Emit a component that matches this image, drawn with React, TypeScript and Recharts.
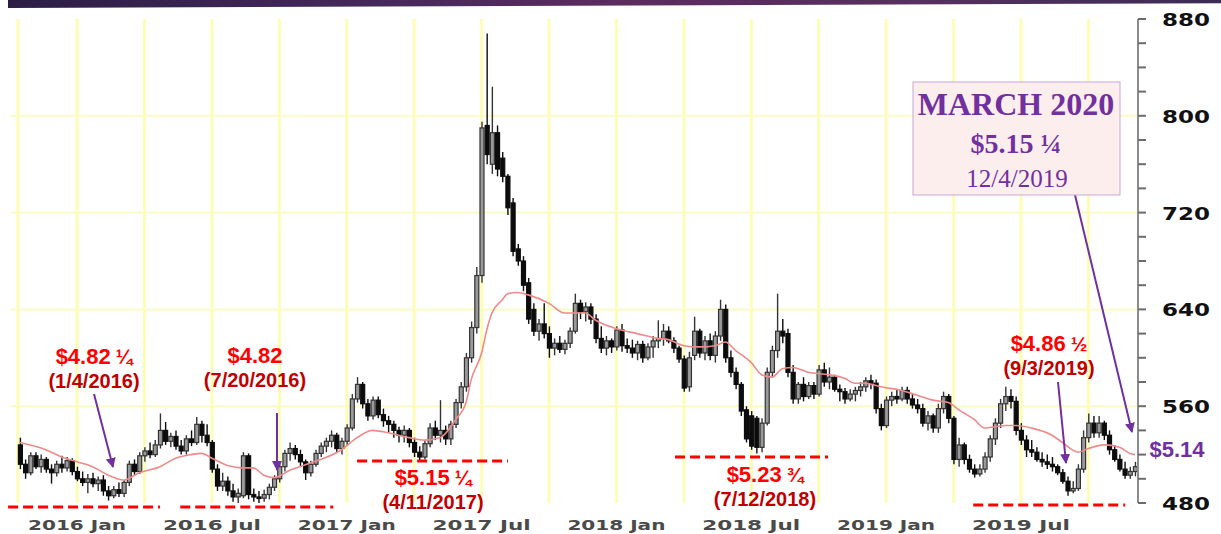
import React from "react";
import { ComposedChart, Bar, Line, XAxis, YAxis, CartesianGrid, ReferenceLine } from "recharts";

// weekly candles [open, high, low, close], first week = Oct 19 2015
const OHLC_2015 = [
  [528, 534, 508, 512], [512, 516, 500, 505], [505, 522, 503, 519], [519, 522, 508, 510],
  [510, 520, 505, 516], [516, 518, 505, 508], [508, 512, 496, 505], [505, 515, 502, 512],
  [512, 519, 505, 509], [509, 518, 506, 515], [515, 517, 503, 506],
];
const OHLC_2016 = [
  [506, 510, 498, 500], [500, 506, 494, 497], [497, 504, 488, 500], [500, 505, 493, 496],
  [496, 502, 490, 499], [499, 503, 486, 490], [490, 494, 482, 486], [486, 494, 484, 491],
  [491, 497, 485, 488], [488, 499, 485, 497], [497, 515, 494, 512], [512, 516, 503, 506],
  [506, 522, 504, 519], [519, 526, 514, 523], [523, 530, 517, 520], [520, 532, 518, 528],
  [528, 554, 525, 540], [540, 547, 528, 531], [531, 538, 526, 535], [535, 540, 524, 527],
  [527, 532, 520, 523], [523, 536, 520, 533], [533, 540, 527, 530], [530, 551, 528, 545],
  [545, 548, 530, 536], [536, 545, 527, 530], [530, 532, 505, 508], [508, 512, 490, 494],
  [494, 505, 490, 498], [498, 502, 486, 490], [490, 496, 481, 485], [485, 492, 480, 488],
  [486, 522, 484, 519], [519, 521, 483, 487], [487, 492, 481, 485], [485, 490, 480, 484],
  [484, 491, 481, 487], [487, 496, 483, 493], [493, 503, 490, 500], [500, 513, 497, 510],
  [510, 524, 506, 521], [521, 530, 515, 525], [525, 528, 516, 520], [520, 524, 510, 514],
  [514, 516, 499, 505], [505, 515, 502, 512], [512, 524, 510, 521], [521, 530, 518, 527],
  [527, 534, 522, 531], [531, 540, 526, 536], [536, 538, 522, 525], [525, 534, 520, 531],
];
const OHLC_2017 = [
  [531, 545, 528, 542], [542, 570, 540, 566], [566, 584, 563, 578], [578, 580, 558, 562],
  [562, 566, 548, 552], [552, 568, 549, 565], [565, 568, 550, 553], [553, 558, 543, 548],
  [548, 552, 538, 545], [545, 548, 534, 540], [540, 543, 530, 536], [536, 544, 530, 540],
  [540, 542, 526, 530], [530, 534, 518, 522], [522, 527, 515, 518], [518, 532, 516, 529],
  [529, 546, 526, 542], [542, 548, 532, 536], [536, 565, 530, 540], [540, 544, 528, 533],
  [533, 548, 528, 545], [545, 566, 542, 563], [563, 580, 558, 576], [576, 604, 572, 600],
  [600, 630, 596, 625], [625, 675, 620, 668], [668, 795, 662, 790], [792, 868, 760, 768],
  [760, 824, 752, 786], [786, 792, 750, 756], [765, 770, 745, 750], [750, 752, 718, 724],
  [728, 732, 684, 688], [690, 694, 676, 680], [680, 684, 655, 660], [662, 666, 628, 632],
  [640, 645, 618, 622], [622, 632, 614, 628], [628, 645, 616, 620], [620, 626, 600, 608],
  [608, 616, 602, 612], [612, 618, 604, 607], [607, 615, 603, 612], [612, 625, 608, 622],
  [622, 653, 620, 645], [645, 648, 632, 638], [638, 646, 630, 642], [642, 645, 628, 632],
  [632, 636, 612, 616], [616, 626, 604, 608], [608, 618, 602, 614], [614, 616, 604, 609],
];
const OHLC_2018 = [
  [609, 626, 606, 623], [623, 628, 605, 610], [610, 616, 604, 608], [608, 615, 600, 604],
  [604, 614, 598, 611], [611, 614, 596, 600], [600, 612, 598, 609], [609, 618, 600, 614],
  [614, 631, 608, 616], [616, 628, 610, 622], [622, 626, 612, 614], [614, 617, 604, 608],
  [608, 610, 596, 599], [599, 602, 572, 575], [576, 605, 572, 600], [602, 634, 598, 622],
  [622, 624, 600, 604], [604, 618, 598, 614], [614, 620, 598, 602], [602, 622, 596, 618],
  [618, 648, 614, 640], [640, 644, 596, 600], [600, 606, 584, 588], [588, 592, 574, 578],
  [578, 580, 552, 556], [557, 560, 530, 533], [552, 556, 524, 527], [550, 552, 521, 526],
  [526, 550, 522, 546], [546, 592, 544, 588], [588, 610, 584, 606], [606, 653, 600, 622],
  [622, 632, 612, 618], [620, 624, 584, 588], [588, 594, 562, 566], [566, 580, 562, 578],
  [578, 584, 564, 568], [568, 580, 566, 577], [577, 580, 566, 570], [570, 594, 568, 590],
  [590, 596, 576, 580], [580, 592, 574, 584], [584, 586, 572, 574], [574, 578, 564, 572],
  [572, 575, 562, 566], [566, 574, 564, 570], [570, 576, 564, 573], [573, 580, 568, 576],
  [576, 584, 572, 581], [581, 586, 574, 579], [579, 582, 554, 558], [558, 562, 540, 544],
];
const OHLC_2019 = [
  [544, 568, 542, 565], [565, 572, 560, 568], [568, 574, 562, 566], [566, 576, 564, 573],
  [573, 576, 562, 566], [566, 570, 558, 561], [561, 566, 554, 558], [558, 562, 543, 546],
  [546, 556, 540, 552], [552, 554, 538, 542], [542, 562, 538, 558], [558, 572, 554, 568],
  [568, 570, 546, 550], [550, 552, 512, 516], [516, 534, 510, 528], [528, 530, 512, 516],
  [516, 520, 505, 508], [508, 512, 501, 504], [504, 512, 502, 508], [508, 522, 505, 518],
  [518, 536, 514, 533], [533, 550, 528, 546], [546, 566, 542, 562], [562, 576, 556, 568],
  [568, 574, 558, 564], [564, 568, 536, 540], [540, 546, 528, 532], [532, 536, 518, 524],
  [524, 532, 518, 522], [522, 526, 514, 516], [516, 522, 510, 514], [514, 520, 508, 512],
  [512, 518, 506, 510], [510, 512, 503, 505], [505, 508, 496, 498], [498, 502, 486, 490],
  [490, 498, 488, 492], [492, 512, 490, 508], [508, 540, 505, 534], [534, 554, 530, 546],
  [546, 552, 534, 538], [538, 552, 534, 546], [546, 548, 532, 536], [536, 540, 520, 524],
  [524, 528, 514, 516], [516, 520, 506, 508], [508, 514, 500, 503], [503, 510, 500, 506],
  [506, 514, 502, 510],
];

// moving average (week index -> value)
const MA_WEEKS = [
  0, 5, 8, 11, 14, 17, 20, 23, 27, 30, 33, 35, 37, 40, 43, 45, 47, 49, 52, 56,
  62, 65, 68, 71, 75, 78, 81, 84, 86, 87, 89, 90, 91, 93, 94, 96, 98, 102, 105, 109,
  111, 115, 119, 123, 125, 128, 131, 134, 136, 138, 141, 143, 145, 147, 149, 152, 156, 159, 161, 163,
  166, 170, 173, 176, 179, 181, 184, 186, 188, 190, 192, 195, 199, 201, 204, 206, 209, 212, 214, 215,
];
const MA_VALUES = [
  530, 524, 518, 514, 510, 503, 499, 505, 510, 517, 520, 521, 517, 511, 509, 509, 503, 501, 507, 513,
  524, 534, 540, 538, 534, 532, 534, 549, 563, 582, 604, 623, 637, 648, 653, 654, 652, 645, 637, 637,
  631, 624, 620, 616, 615, 610, 609, 610, 613, 606, 596, 586, 584, 591, 592, 588, 586, 583, 579, 579,
  576, 573, 569, 565, 563, 557, 549, 542, 543, 544, 544, 542, 536, 530, 522, 525, 528, 526, 521, 520,
];

const TICK_WEEKS = [11, 37, 63, 89, 115, 141, 167, 193];
const TICK_LABELS = ["2016 Jan", "2016 Jul", "2017 Jan", "2017 Jul", "2018 Jan", "2018 Jul", "2019 Jan", "2019 Jul"];
const GRID_WEEKS = [-0.4, 11, 24, 37, 50, 63, 76, 89, 102, 115, 128, 141, 154, 167, 180, 193, 206];
const Y_TICKS = [480, 500, 520, 540, 560, 580, 600, 620, 640, 660, 680, 700, 720, 740, 760, 780, 800, 820, 840, 860, 880];
const Y_LABELS = [480, 560, 640, 720, 800, 880];
const Y_GRID = [560, 640, 720, 800];

// dashed support lines under the lows
const LOW_LINES = [
  { from: -2.3, to: 27, price: 476.7 },
  { from: 30.9, to: 60.4, price: 476.7 },
  { from: 65, to: 94.1, price: 514.7 },
  { from: 126.3, to: 155.8, price: 518 },
  { from: 183.8, to: 213.1, price: 478.3 },
];

type Row = { i: number; o: number; h: number; l: number; c: number; ma: number | null };

const data: Row[] = [...OHLC_2015, ...OHLC_2016, ...OHLC_2017, ...OHLC_2018, ...OHLC_2019].map(
  ([o, h, l, c], i) => ({ i, o, h, l, c, ma: null })
);
MA_WEEKS.forEach((w, k) => {
  data[w].ma = MA_VALUES[k];
});

const PURPLE = "#7030a0";
const SANS = "'Liberation Sans', Arial, sans-serif";
const AXIS_FONT = "'DejaVu Sans', sans-serif";

function Candle(props: any) {
  const { x, y, width, height, payload } = props;
  if (x == null || y == null) return null;
  const top = Math.min(y, y + height);
  const h = Math.abs(height);
  const span = payload.h - payload.l || 1;
  const toY = (v: number) => top + ((payload.h - v) / span) * h;
  const up = payload.c >= payload.o;
  const bTop = toY(Math.max(payload.o, payload.c));
  const bBot = toY(Math.min(payload.o, payload.c));
  const cx = x + width / 2;
  return (
    <g>
      <line x1={cx} x2={cx} y1={top} y2={top + h} stroke={up ? "#333" : "#0c0c0c"} strokeWidth={1.4} />
      <rect
        x={x}
        y={bTop}
        width={width}
        height={Math.max(1.5, bBot - bTop)}
        fill={up ? "#9a9a9a" : "#0c0c0c"}
        stroke={up ? "#333" : "#0c0c0c"}
        strokeWidth={1.2}
      />
    </g>
  );
}

function XTick(props: any) {
  const { x, y, payload } = props;
  const k = TICK_WEEKS.indexOf(payload.value);
  if (k < 0) return null;
  return (
    <text
      x={x}
      y={y + 27}
      textAnchor="middle"
      fontFamily={AXIS_FONT}
      fontSize={14}
      fontWeight="bold"
      fill="#4a4a4a"
      textLength={98}
      lengthAdjust="spacingAndGlyphs"
    >
      {TICK_LABELS[k]}
    </text>
  );
}

function YTick(props: any) {
  const { x, y, payload } = props;
  if (!Y_LABELS.includes(payload.value)) return null;
  return (
    <text
      x={x}
      y={y + 7}
      textAnchor="start"
      fontFamily={AXIS_FONT}
      fontSize={18}
      fontWeight="bold"
      fill="#111"
      textLength={48}
      lengthAdjust="spacingAndGlyphs"
    >
      {payload.value}
    </text>
  );
}

function Note({ x, y, price, frac, date }: { x: number; y: number; price: string; frac?: string; date: string }) {
  return (
    <g fontFamily={SANS} fontWeight="bold" textAnchor="middle">
      <text x={x} y={y} fontSize={22} fill="#ff0000">
        {price}
        {frac && (
          <tspan fontSize={20} dx={5}>
            {frac}
          </tspan>
        )}
      </text>
      <text x={x} y={y + 24} fontSize={20} fill="#c00000">
        {date}
      </text>
    </g>
  );
}

export default function App() {
  return (
    <div style={{ position: "absolute", left: 0, top: 0, width: 1221, height: 534, background: "#fff", overflow: "hidden" }}>
      <ComposedChart width={1221} height={534} data={data} margin={{ top: 19, right: 0, bottom: 0, left: 10 }}>
        <CartesianGrid horizontal={false} verticalValues={GRID_WEEKS} stroke="#fdfdb6" strokeWidth={3} />
        <CartesianGrid vertical={false} horizontalValues={Y_GRID} stroke="#fbfbc6" strokeWidth={2} />
        <XAxis
          dataKey="i"
          type="number"
          domain={[-1.93, 215.57]}
          allowDataOverflow
          ticks={TICK_WEEKS}
          height={31}
          axisLine={false}
          tickLine={false}
          tickSize={0}
          tickMargin={0}
          tick={<XTick />}
          interval={0}
        />
        <YAxis
          orientation="right"
          width={83}
          domain={[480, 880]}
          allowDataOverflow
          ticks={Y_TICKS}
          interval={0}
          axisLine={{ stroke: "#8c8c8c", strokeWidth: 2 }}
          tickLine={{ stroke: "#6c6c6c", strokeWidth: 2 }}
          tickSize={8}
          tickMargin={16}
          tick={<YTick />}
        />
        <Bar dataKey={(d: Row) => [d.l, d.h]} barSize={4} shape={<Candle />} isAnimationActive={false} />
        <Line
          dataKey="ma"
          type="monotone"
          stroke="#f08a8a"
          strokeWidth={1.6}
          dot={false}
          connectNulls
          isAnimationActive={false}
        />
        {LOW_LINES.map((s, k) => (
          <ReferenceLine
            key={k}
            segment={[
              { x: s.from, y: s.price },
              { x: s.to, y: s.price },
            ]}
            stroke="#ff0000"
            strokeWidth={3}
            strokeDasharray="10 5"
            ifOverflow="visible"
          />
        ))}
      </ComposedChart>

      <div
        style={{
          position: "absolute",
          left: 8,
          top: 0,
          width: 1213,
          height: 8,
          background: "linear-gradient(90deg, #2b1e45 0%, #45285a 30%, #5c2b5f 50%, #56305f 75%, #3b2b55 100%)",
          clipPath: "polygon(0 0, 100% 0, 100% 40%, 0 100%)",
        }}
      />

      <svg width={1221} height={534} style={{ position: "absolute", left: 0, top: 0, pointerEvents: "none" }}>
        <defs>
          <marker id="head" viewBox="0 0 10 10" refX="9" refY="5" markerWidth="5" markerHeight="5" orient="auto">
            <path d="M0,0 L10,5 L0,10 z" fill={PURPLE} />
          </marker>
        </defs>

        <Note x={94} y={364} price="$4.82" frac="¼" date="(1/4/2016)" />
        <Note x={255} y={363} price="$4.82" date="(7/20/2016)" />
        <Note x={433} y={485} price="$5.15" frac="¼" date="(4/11/2017)" />
        <Note x={765} y={482} price="$5.23" frac="¾" date="(7/12/2018)" />
        <Note x={1049} y={351} price="$4.86" frac="½" date="(9/3/2019)" />

        <line x1={94} y1={394} x2={113} y2={467} stroke={PURPLE} strokeWidth={2} markerEnd="url(#head)" />
        <line x1={277} y1={413} x2={277} y2={470} stroke={PURPLE} strokeWidth={2} markerEnd="url(#head)" />
        <line x1={1058} y1={382} x2={1066} y2={463} stroke={PURPLE} strokeWidth={2} markerEnd="url(#head)" />
        <line x1={1075} y1={195} x2={1132} y2={432} stroke={PURPLE} strokeWidth={2} markerEnd="url(#head)" />

        <text x={1177} y={457} textAnchor="middle" fontFamily={SANS} fontWeight="bold" fontSize={22} fill={PURPLE}>
          $5.14
        </text>

        <rect x={913} y={82} width={207} height={113} fill="#fdeeee" stroke="#c9a6d8" strokeWidth={1} />
        <g fontFamily="'Liberation Serif', 'Times New Roman', serif" fill={PURPLE} textAnchor="middle">
          <text x={1016} y={115} fontSize={32} fontWeight="bold">
            MARCH 2020
          </text>
          <text x={1016} y={153} fontSize={28} fontWeight="bold">
            $5.15 ¼
          </text>
          <text x={1017} y={187} fontSize={25}>
            12/4/2019
          </text>
        </g>
      </svg>
    </div>
  );
}
